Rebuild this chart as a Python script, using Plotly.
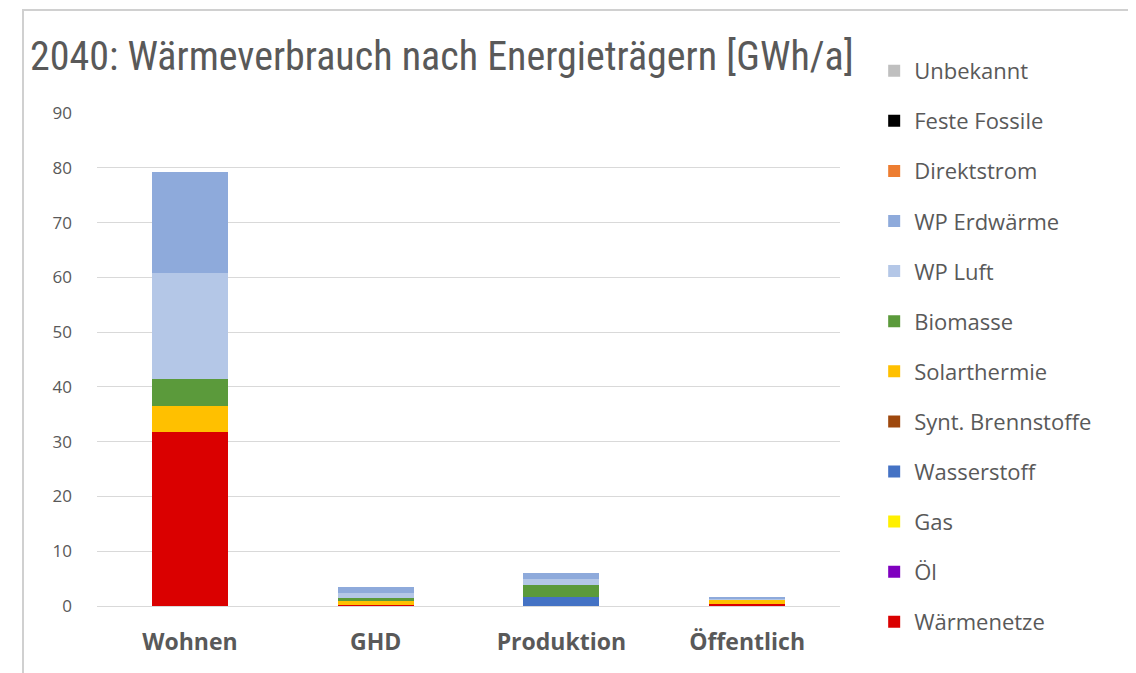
import plotly.graph_objects as go

# --- data (GWh/a) ---
categories = ["Wohnen", "GHD", "Produktion", "Öffentlich"]

waermenetze = [31.7, 0.25, 0.0, 0.4]
oel = [0, 0, 0, 0]
gas = [0, 0, 0, 0]
wasserstoff = [0, 0, 1.7, 0]
synt_brennstoffe = [0, 0, 0, 0]
solarthermie = [4.8, 0.6, 0, 0.7]
biomasse = [5.0, 0.6, 2.1, 0]
wp_luft = [19.3, 1.0, 1.1, 0.3]
wp_erdwaerme = [18.5, 1.0, 1.1, 0.3]
direktstrom = [0, 0, 0, 0]
feste_fossile = [0, 0, 0, 0]
unbekannt = [0, 0, 0, 0]

y_ticks = [0, 10, 20, 30, 40, 50, 60, 70, 80, 90]

# bottom of stack first
series = [
    ("Wärmenetze", waermenetze, "#DA0000"),
    ("Öl", oel, "#7F00BF"),
    ("Gas", gas, "#FFF000"),
    ("Wasserstoff", wasserstoff, "#4472C4"),
    ("Synt. Brennstoffe", synt_brennstoffe, "#9E480E"),
    ("Solarthermie", solarthermie, "#FFC000"),
    ("Biomasse", biomasse, "#5B9A3B"),
    ("WP Luft", wp_luft, "#B4C7E7"),
    ("WP Erdwärme", wp_erdwaerme, "#8EAADB"),
    ("Direktstrom", direktstrom, "#ED7D31"),
    ("Feste Fossile", feste_fossile, "#000000"),
    ("Unbekannt", unbekannt, "#BFBFBF"),
]

GREY = "#595959"

fig = go.Figure()
for i, (name, vals, col) in enumerate(series):
    fig.add_trace(go.Bar(
        x=categories, y=vals, name=name, legendgroup=name,
        legendrank=1000 - i,  # top of stack = top of legend
        marker=dict(color=col, line=dict(width=0)),
        hoverinfo="x+y+name",
    ))

# the page body adds 8px margin, so figure px = page px - 8
# plot area (figure px): x 89..832, y 105..598
fig.update_layout(
    width=1128, height=665,
    margin=dict(l=89, r=296, t=105, b=67),
    barmode="stack", bargap=0.59,
    paper_bgcolor="white", plot_bgcolor="white",
    font=dict(family="Open Sans, Noto Sans, sans-serif", color=GREY),
    title=dict(
        text="2040: Wärmeverbrauch nach Energieträgern [GWh/a]",
        x=22 / 1128, xanchor="left", xref="container",
        y=1 - 48 / 665, yanchor="middle", yref="container",
        font=dict(family="Roboto Condensed, Liberation Sans Narrow, Open Sans, sans-serif",
                  size=40, color=GREY),
    ),
    legend=dict(
        traceorder="grouped", tracegroupgap=18.5,
        x=1.046, xanchor="left", y=1.128, yanchor="top",
        font=dict(size=22, color=GREY),
        bgcolor="rgba(0,0,0,0)", itemclick=False,
        maxheight=700,
    ),
    shapes=[
        dict(type="rect", xref="paper", yref="paper",
             x0=(15 - 89) / 743, x1=(1124 - 89) / 743,
             y0=-0.2, y1=(598 - 2) / 493,
             fillcolor="white", line=dict(color="#D0D0D0", width=2), layer="below"),
    ],
)

fig.update_yaxes(
    range=[0, 90], tickvals=y_ticks,
    showgrid=True, gridcolor="#D9D9D9", gridwidth=1,
    zeroline=True, zerolinecolor="#D9D9D9", zerolinewidth=1,
    showline=False, ticks="", ticklabelstandoff=24,
    tickfont=dict(size=17, color=GREY),
)
fig.update_xaxes(
    showgrid=False, showline=False, ticks="", ticklabelstandoff=20,
    tickfont=dict(size=23, color=GREY, weight="bold"),
)

fig.write_html("out.html")
